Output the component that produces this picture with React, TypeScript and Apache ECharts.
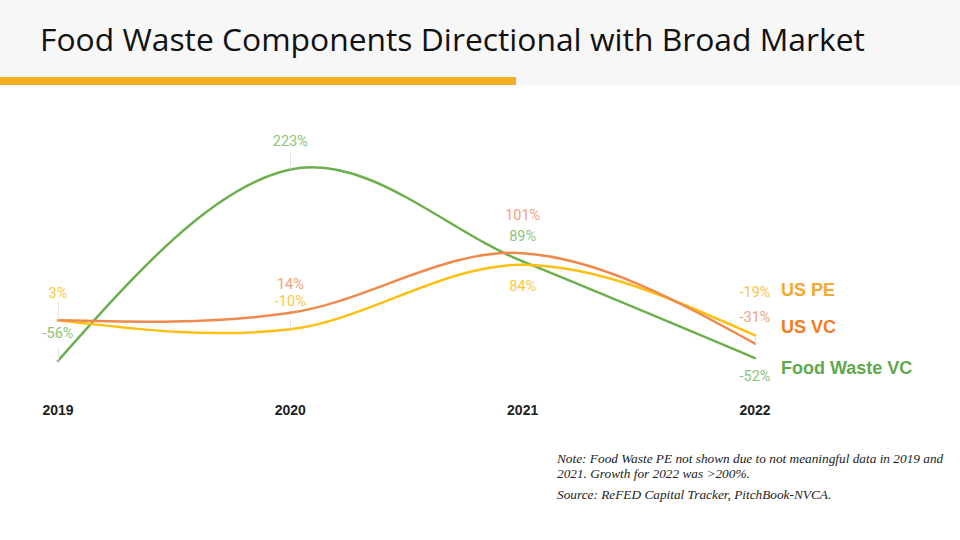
import React, { useEffect, useRef } from "react";
import * as echarts from "echarts";

const years = ["2019", "2020", "2021", "2022"];
const usPE = [3, -10, 84, -19];
const usVC = [3, 14, 101, -31];
const foodWasteVC = [-56, 223, 89, -52];

// which points show a value label, and their vertical offsets (px)
const pePoints = [{ i: 0, dy: -27 }, { i: 1, dy: -28 }, { i: 2, dy: 22 }, { i: 3, dy: -43 }];
const vcPoints = [{ i: 1, dy: -28 }, { i: 2, dy: -38 }, { i: 3, dy: -26 }];
const fwPoints = [{ i: 0, dy: -27 }, { i: 1, dy: -28 }, { i: 2, dy: -25 }, { i: 3, dy: 18 }];

const peLeaders = [[0, 3, 30], [1, -10, 4]];
const vcLeaders = [[3, -31, -20]];
const fwLeaders = [[0, -56, -36], [1, 223, 248]];

// Catmull-Rom tangents with natural end conditions
function tangents(p: number[][]) {
  const n = p.length - 1;
  const t: number[][] = new Array(n + 1);
  for (let i = 1; i < n; i++) {
    t[i] = [(p[i + 1][0] - p[i - 1][0]) / 2, (p[i + 1][1] - p[i - 1][1]) / 2];
  }
  t[0] = [(3 * (p[1][0] - p[0][0]) - t[1][0]) / 2, (3 * (p[1][1] - p[0][1]) - t[1][1]) / 2];
  t[n] = [(3 * (p[n][0] - p[n - 1][0]) - t[n - 1][0]) / 2, (3 * (p[n][1] - p[n - 1][1]) - t[n - 1][1]) / 2];
  return t;
}

function buildData(values: number[], pts: { i: number; dy: number }[], color: string) {
  return values.map((v, i) => {
    const p = pts.find((q) => q.i === i);
    if (!p) return { value: v, label: { show: false } };
    return {
      value: v,
      label: {
        show: true,
        position: "inside",
        offset: [0, p.dy],
        formatter: "{c}%",
        color,
        fontFamily: "Roboto",
        fontSize: 14.5,
        lineHeight: 15,
      },
    };
  });
}

function leaders(list: number[][]) {
  return {
    silent: true,
    symbol: "none",
    label: { show: false },
    lineStyle: { color: "#e2e2e2", width: 1, type: "solid" },
    data: list.map(([x, a, b]) => [{ coord: [x, a] }, { coord: [x, b] }]),
  };
}

function curveSeries(values: number[], color: string, z: number) {
  return {
    type: "custom",
    z,
    silent: true,
    data: values.map((v, i) => [i, v]),
    renderItem: (params: any, api: any) => {
      if (params.dataIndex !== 0) return null;
      const pts = values.map((v, i) => api.coord([i, v]));
      const tg = tangents(pts);
      const children = [];
      for (let i = 0; i < pts.length - 1; i++) {
        children.push({
          type: "bezierCurve",
          shape: {
            x1: pts[i][0], y1: pts[i][1],
            cpx1: pts[i][0] + tg[i][0] / 3, cpy1: pts[i][1] + tg[i][1] / 3,
            cpx2: pts[i + 1][0] - tg[i + 1][0] / 3, cpy2: pts[i + 1][1] - tg[i + 1][1] / 3,
            x2: pts[i + 1][0], y2: pts[i + 1][1],
          },
          style: { stroke: color, lineWidth: 2.5, fill: null, lineCap: "round" },
        });
      }
      return { type: "group", children };
    },
  };
}

export default function App() {
  const ref = useRef<HTMLDivElement>(null);
  useEffect(() => {
    const chart = echarts.init(ref.current!, null, { renderer: "svg" });
    const mk = (
      name: string,
      values: number[],
      pts: { i: number; dy: number }[],
      labelColor: string,
      nameColor: string,
      endDy: number,
      lead: number[][],
      z: number
    ) => ({
      name,
      type: "line",
      symbol: "circle",
      symbolSize: 1,
      showSymbol: true,
      z,
      itemStyle: { color: "rgba(0,0,0,0)" },
      lineStyle: { opacity: 0, width: 0 },
      data: buildData(values, pts, labelColor),
      endLabel: {
        show: true,
        formatter: name,
        offset: [18, endDy],
        color: nameColor,
        fontWeight: "bold",
        fontSize: 18,
        fontFamily: "Liberation Sans",
      },
      markLine: leaders(lead),
    });
    chart.setOption({
      animation: false,
      backgroundColor: "#ffffff",
      grid: { left: 58, right: 205, top: 151, bottom: 149 },
      xAxis: {
        type: "category",
        data: years,
        boundaryGap: false,
        axisLine: { show: false },
        axisTick: { show: false },
        splitLine: { show: false },
        axisLabel: {
          margin: 12,
          color: "#222",
          fontWeight: "bold",
          fontSize: 14,
          fontFamily: "Liberation Sans",
        },
      },
      yAxis: {
        type: "value",
        min: -100,
        max: 250,
        show: false,
        splitLine: { show: false },
      },
      graphic: [
        { type: "rect", left: 0, top: 0, shape: { width: 960, height: 85 }, style: { fill: "#f7f7f7" }, z: -10 },
        { type: "rect", left: 0, top: 77, shape: { width: 516, height: 8 }, style: { fill: "#f4ae23" }, z: -9 },
        {
          type: "text",
          left: 40,
          top: 22,
          style: { text: "Food Waste Components Directional with Broad Market", fill: "#111", fontSize: 31.8, fontFamily: "Open Sans" },
        },
        {
          type: "text",
          left: 557,
          top: 451,
          style: {
            text: "Note: Food Waste PE not shown due to not meaningful data in 2019 and\n2021. Growth for 2022 was >200%.",
            fill: "#222",
            fontSize: 13.3,
            lineHeight: 15,
            fontStyle: "italic",
            fontFamily: "Liberation Serif",
          },
        },
        {
          type: "text",
          left: 557,
          top: 488,
          style: {
            text: "Source: ReFED Capital Tracker, PitchBook-NVCA.",
            fill: "#222",
            fontSize: 13.3,
            fontStyle: "italic",
            fontFamily: "Liberation Serif",
          },
        },
      ],
      series: [
        curveSeries(foodWasteVC, "#6cb04e", 2),
        curveSeries(usPE, "#fdc010", 3),
        curveSeries(usVC, "#ef8a4c", 4),
        mk("Food Waste VC", foodWasteVC, fwPoints, "#8cc47a", "#5fa84f", 10, fwLeaders, 5),
        mk("US PE", usPE, pePoints, "#fdc63c", "#f2a832", -45, peLeaders, 5),
        mk("US VC", usVC, vcPoints, "#f2a07a", "#f47b20", -17, vcLeaders, 5),
      ],
    });
    return () => chart.dispose();
  }, []);
  return (
    <div
      ref={ref}
      style={{ position: "fixed", left: 0, top: 0, width: 960, height: 540, background: "#fff" }}
    />
  );
}
